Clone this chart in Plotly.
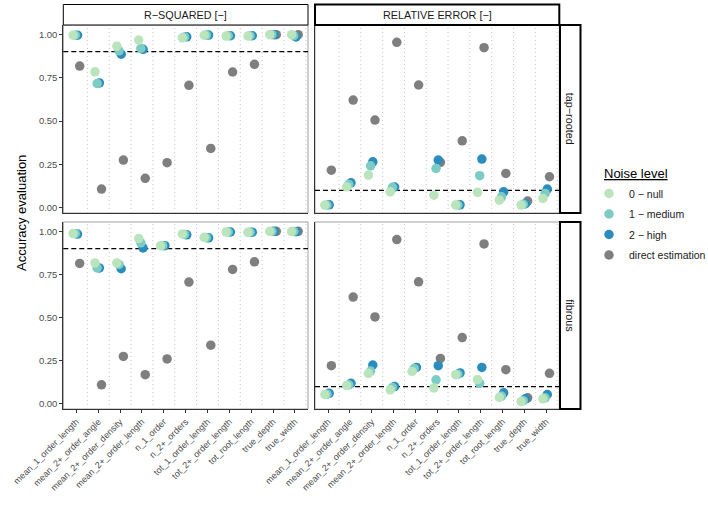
import plotly.graph_objects as go

categories = ["mean_1_order_length", "mean_2+_order_angle", "mean_2+_order_density",
              "mean_2+_order_length", "n_1_order", "n_2+_orders", "tot_1_order_length",
              "tot_2+_order_length", "tot_root_length", "true_depth", "true_width"]

noise_labels = ["0 − null", "1 − medium", "2 − high", "direct estimation"]
noise_colors = ["#bae4bc", "#7bccc4", "#2b8cbe", "#7f7f7f"]

# R-squared, tap-rooted
rsq_tap_null   = [0.995, 0.784, 0.932, 0.967, None, 0.980, 0.995, 0.990, 0.990, 0.998, 0.998]
rsq_tap_medium = [0.995, 0.717, 0.905, 0.919, None, 0.985, 0.996, 0.992, 0.992, 0.998, 0.992]
rsq_tap_high   = [0.995, 0.720, 0.886, 0.914, None, 0.986, 0.996, 0.992, 0.992, 0.998, 0.985]
rsq_tap_direct = [0.817, 0.108, 0.275, 0.170, 0.260, 0.706, 0.342, 0.783, 0.827, 0.998, 0.998]

# Relative error, tap-rooted
re_tap_null   = [0.016, 0.121, 0.189, 0.092, None, 0.073, 0.016, 0.089, 0.044, 0.016, 0.054]
re_tap_medium = [0.016, 0.135, 0.242, 0.118, None, 0.227, 0.016, 0.185, 0.063, 0.020, 0.083]
re_tap_high   = [0.017, 0.144, 0.265, 0.120, None, 0.275, 0.017, 0.281, 0.092, 0.024, 0.108]
re_tap_direct = [0.217, 0.621, 0.506, 0.954, 0.708, 0.262, 0.386, 0.923, 0.198, 0.039, 0.179]

# R-squared, fibrous
rsq_fib_null   = [0.987, 0.817, 0.817, 0.958, 0.917, 0.985, 0.965, 0.996, 0.994, 0.999, 0.999]
rsq_fib_medium = [0.986, 0.788, 0.808, 0.933, 0.917, 0.982, 0.963, 0.996, 0.995, 1.000, 0.999]
rsq_fib_high   = [0.984, 0.788, 0.783, 0.904, 0.917, 0.980, 0.962, 0.996, 0.995, 1.000, 0.998]
rsq_fib_direct = [0.814, 0.110, 0.275, 0.169, 0.260, 0.706, 0.340, 0.779, 0.823, 1.000, 1.000]

# Relative error, fibrous
re_fib_null   = [0.054, 0.106, 0.177, 0.081, 0.188, 0.092, 0.169, 0.140, 0.038, 0.013, 0.029]
re_fib_medium = [0.056, 0.110, 0.190, 0.095, 0.205, 0.139, 0.172, 0.119, 0.045, 0.018, 0.035]
re_fib_high   = [0.061, 0.119, 0.225, 0.100, 0.211, 0.221, 0.179, 0.211, 0.064, 0.029, 0.054]
re_fib_direct = [0.221, 0.619, 0.504, 0.952, 0.707, 0.263, 0.384, 0.927, 0.198, 0.035, 0.177]

thresholds = {"rsq": 0.9, "re": 0.1}
col_titles = ["R−SQUARED [−]", "RELATIVE ERROR [−]"]
row_titles = ["tap−rooted", "fibrous"]

W, H = 708, 508
def X(px): return px / W
def Y(py): return 1 - py / H

panel_x = [(63.3, 308.0), (315.0, 559.3)]
panel_y = [(25.0, 213.0), (222.0, 409.0)]

fig = go.Figure()

panels = [
    (0, 0, [rsq_tap_null, rsq_tap_medium, rsq_tap_high, rsq_tap_direct], "rsq"),
    (0, 1, [re_tap_null, re_tap_medium, re_tap_high, re_tap_direct], "re"),
    (1, 0, [rsq_fib_null, rsq_fib_medium, rsq_fib_high, rsq_fib_direct], "rsq"),
    (1, 1, [re_fib_null, re_fib_medium, re_fib_high, re_fib_direct], "re"),
]
offsets = [-0.15, -0.05, 0.05, 0.15]
font = "Liberation Sans, Arial, sans-serif"

shapes = []
annotations = []
for idx, (r, c, series, metric) in enumerate(panels):
    n = idx + 1
    xa = "x" if n == 1 else f"x{n}"
    ya = "y" if n == 1 else f"y{n}"
    # draw in reverse so that null is on top
    for k in [3, 2, 1, 0]:
        xs = [i + 1 + offsets[k] for i in range(len(categories))]
        fig.add_trace(go.Scatter(
            x=xs, y=series[k], mode="markers", xaxis=xa, yaxis=ya,
            name=noise_labels[k], legendgroup=noise_labels[k],
            legendrank=100 + k,
            showlegend=(idx == 0),
            marker=dict(color=noise_colors[k], size=9.5, line=dict(width=0)),
            hoverinfo="skip"))
    x0, x1 = panel_x[c]
    y0, y1 = panel_y[r]
    xkey = "xaxis" if n == 1 else f"xaxis{n}"
    ykey = "yaxis" if n == 1 else f"yaxis{n}"
    fig.layout[xkey] = dict(
        domain=[X(x0), X(x1)], range=[0.4, 11.6], anchor=ya,
        tickvals=list(range(1, 12)), ticktext=categories,
        showticklabels=(r == 1), ticks="outside" if r == 1 else "",
        ticklen=3, tickcolor="#333333", tickangle=-45,
        tickfont=dict(family=font, size=9, color="#4d4d4d"),
        showgrid=False, zeroline=False, automargin=False,
        showline=True, linecolor="#333333", linewidth=1, mirror=False)
    fig.layout[ykey] = dict(
        domain=[Y(y1), Y(y0)], range=[-0.03, 1.054], anchor=xa,
        tickvals=[0, 0.25, 0.5, 0.75, 1.0],
        ticktext=["0.00", "0.25", "0.50", "0.75", "1.00"],
        showticklabels=(c == 0), ticks="outside" if c == 0 else "",
        ticklen=3, tickcolor="#333333",
        tickfont=dict(family=font, size=9.5, color="#4d4d4d"),
        showgrid=False, zeroline=False, automargin=False,
        showline=True, linecolor="#333333", linewidth=1, mirror=False)
    # panel border (top/right) grey
    shapes.append(dict(type="rect", xref="paper", yref="paper",
                       x0=X(x0), x1=X(x1), y0=Y(y1), y1=Y(y0),
                       line=dict(color="#a0a0a0", width=1), layer="below"))
    # dotted separators
    for v in [i + 1.5 for i in range(11)]:
        shapes.append(dict(type="line", xref=xa, yref=f"{ya} domain",
                           x0=v, x1=v, y0=0, y1=1,
                           line=dict(color="#c4c4c4", width=1, dash="1px,3px"), layer="below"))
    # threshold line
    shapes.append(dict(type="line", xref=f"{xa} domain", yref=ya,
                       x0=0, x1=1, y0=thresholds[metric], y1=thresholds[metric],
                       line=dict(color="black", width=1.2, dash="5px,3px"), layer="below"))

# Column strips
strip_w = [1, 2]
for c, title in enumerate(col_titles):
    x0, x1 = panel_x[c]
    shapes.append(dict(type="rect", xref="paper", yref="paper",
                       x0=X(x0), x1=X(x1), y0=Y(25), y1=Y(4.5),
                       line=dict(color="black", width=strip_w[c]), fillcolor="white"))
    annotations.append(dict(x=X((x0 + x1) / 2), y=Y(14.8), xref="paper", yref="paper",
                            xanchor="center", yanchor="middle",
                            text=title, showarrow=False,
                            font=dict(family=font, size=10.8, color="#1a1a1a")))
# Row strips
for r, title in enumerate(row_titles):
    y0, y1 = panel_y[r]
    shapes.append(dict(type="rect", xref="paper", yref="paper",
                       x0=X(560), x1=X(580.5), y0=Y(y1), y1=Y(y0),
                       line=dict(color="black", width=2), fillcolor="white"))
    annotations.append(dict(x=X(570.2), y=Y((y0 + y1) / 2), xref="paper", yref="paper",
                            xanchor="center", yanchor="middle",
                            text=title, showarrow=False, textangle=90,
                            font=dict(family=font, size=10.8, color="#1a1a1a")))

# Y axis title
annotations.append(dict(x=X(22), y=Y(213), xref="paper", yref="paper",
                        xanchor="center", yanchor="middle",
                        text="Accuracy evaluation", showarrow=False, textangle=-90,
                        font=dict(family=font, size=13, color="black")))
# Legend title
annotations.append(dict(x=X(602), y=Y(173), xref="paper", yref="paper",
                        xanchor="left", yanchor="middle",
                        text="<span style='text-decoration:underline'>Noise level</span>",
                        showarrow=False,
                        font=dict(family=font, size=13, color="black")))

fig.update_layout(
    width=W, height=H,
    margin=dict(l=0, r=0, t=0, b=0, pad=0, autoexpand=False),
    plot_bgcolor="white", paper_bgcolor="white",
    shapes=shapes, annotations=annotations,
    showlegend=True,
    legend=dict(x=X(589), y=Y(179), xanchor="left", yanchor="top",
                traceorder="grouped", tracegroupgap=1.5,
                font=dict(family=font, size=10.5, color="#1a1a1a"),
                bgcolor="rgba(0,0,0,0)", itemclick=False),
)

fig.write_html("out.html", config={"displayModeBar": False},
               post_script="document.body.style.margin='0';")
